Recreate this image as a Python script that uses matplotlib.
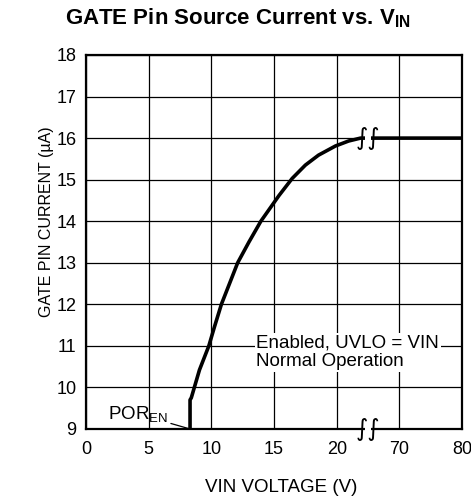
import matplotlib
matplotlib.use("Agg")
import matplotlib.pyplot as plt
import numpy as np

plt.rcParams['font.family'] = ['Liberation Sans', 'DejaVu Sans']
plt.rcParams['mathtext.default'] = 'regular'

# GATE pin source current vs VIN
vin = [8.3, 8.3, 8.4, 9.05, 9.8, 10.25, 10.8, 11.45, 12.1, 13.0, 13.95,
       15.4, 16.45, 17.5, 18.55, 19.9, 20.95, 21.9, 80.0]
i_gate = [9.0, 9.7, 9.75, 10.42, 11.0, 11.46, 12.0, 12.5, 13.0, 13.5, 14.0,
          14.62, 15.03, 15.35, 15.59, 15.81, 15.93, 16.0, 16.0]

x_ticks = [0, 5, 10, 15, 20, 70, 80]
y_ticks = [9, 10, 11, 12, 13, 14, 15, 16, 17, 18]
x_break = 22.5
break_levels = [16, 9]
por_label = (6.55, 9.12)
por_point = (8.3, 9.0)


# broken x axis: 0..22.5 linear, then 65..80 squeezed so that 70 lands at 25
def fwd(v):
    v = np.asarray(v, dtype=float)
    return np.where(v <= 22.5, v, np.where(v >= 65, 25 + (v - 70) / 2, 22.5))


def inv(p):
    p = np.asarray(p, dtype=float)
    return np.where(p <= 22.5, p, 70 + (p - 25) * 2)


fig = plt.figure(figsize=(4.71, 4.99), dpi=100)
ax = fig.add_axes([0.1826, 0.1403, 0.7984, 0.7495])
ax.set_xscale('function', functions=(fwd, inv))
ax.set_xlim(0, 80)
ax.set_ylim(9, 18)
ax.set_xticks(x_ticks)
ax.set_xticklabels([str(t) for t in x_ticks])
ax.set_yticks(y_ticks)
ax.minorticks_off()
ax.tick_params(length=0, labelsize=13)
ax.tick_params(axis='x', pad=9)
ax.tick_params(axis='y', pad=7)
ax.grid(True, color='black', linewidth=0.9)
for s in ax.spines.values():
    s.set_linewidth(1.6)

ax.plot(vin, i_gate, color='black', linewidth=2.6, solid_capstyle='butt',
        solid_joinstyle='round', zorder=3)

# break marks on the curve and on the x axis: white gap + two S strokes
for yb in break_levels:
    ax.plot([x_break], [yb], marker='_', markersize=5, markeredgewidth=6,
            color='white', zorder=4, clip_on=False)
    ax.text(x_break, yb, u"\u222b\u222b", ha='center', va='center',
            fontsize=17, family='DejaVu Sans', zorder=5, clip_on=False)

ax.text(13.6, 11.27, "Enabled, UVLO = VIN\nNormal Operation", ha='left', va='top',
        fontsize=13.5, linespacing=1.12, zorder=4,
        bbox=dict(facecolor='white', edgecolor='none', pad=1.2))

ax.annotate(r"POR$_{EN}$", xy=por_point, xytext=por_label, fontsize=13.5,
            ha='right', va='bottom',
            arrowprops=dict(arrowstyle='-', color='black', linewidth=0.9,
                            shrinkA=0, shrinkB=0))

fig.text(238 / 471, 1 - 18 / 499, r"GATE Pin Source Current vs. V$_{IN}$",
         ha='center', va='center', fontsize=16, fontweight='bold')
fig.text(47 / 471, 1 - 222 / 499, u"GATE PIN CURRENT (\u00b5A)", rotation=90,
         ha='center', va='center', fontsize=11.5)
fig.text(281 / 471, 1 - 487 / 499, "VIN VOLTAGE (V)", ha='center', va='center',
         fontsize=13.5)

fig.savefig("out.png", dpi=100)
